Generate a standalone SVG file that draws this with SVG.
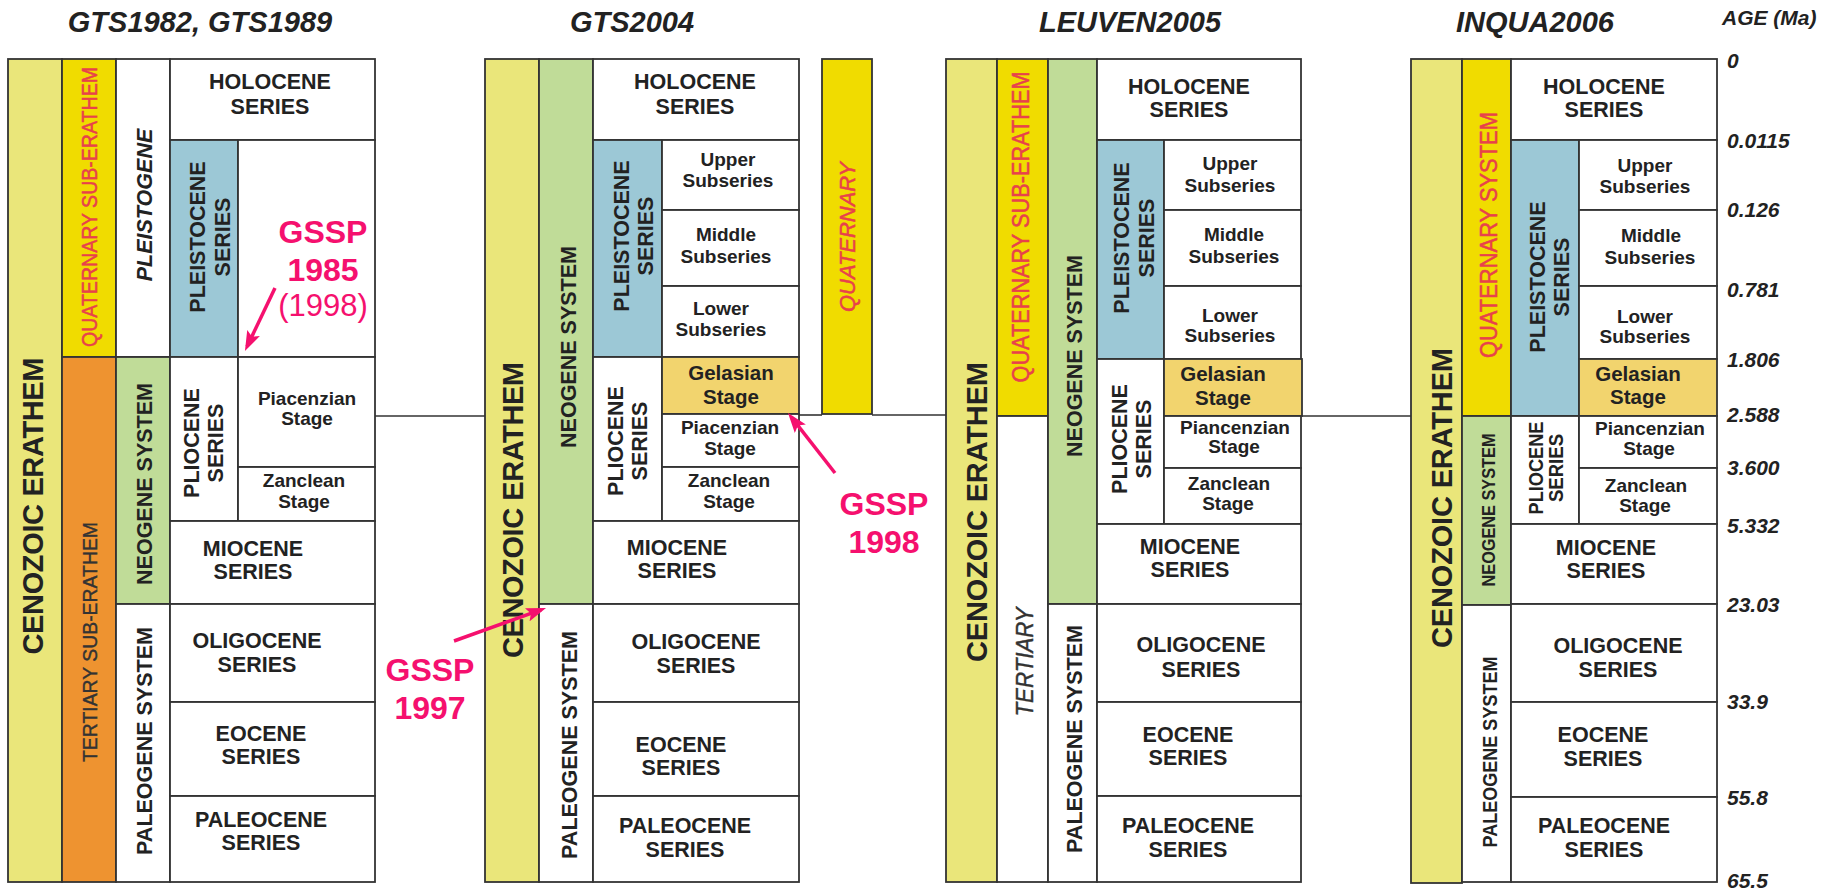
<svg xmlns="http://www.w3.org/2000/svg" width="1827" height="892" viewBox="0 0 1827 892">
  <style>
    text { font-family: "Liberation Sans", Arial, sans-serif; fill: #222; }
    .bx { stroke: #333; stroke-width: 1.8; fill: #fff; }
    .cz { fill: #EAE67A; }
    .qy { fill: #F0DC00; }
    .or { fill: #EE9330; }
    .gr { fill: #C0DC98; }
    .bl { fill: #9CC8D6; }
    .ge { fill: #F2D46E; }
    .ttl { font-size: 29px; font-weight: bold; font-style: italic; text-anchor: middle; }
    .age { font-size: 21px; font-weight: bold; font-style: italic; }
    .h { font-size: 21.5px; font-weight: bold; text-anchor: middle; }
    .s { font-size: 19px; font-weight: bold; text-anchor: middle; }
    .g { font-size: 20.5px; font-weight: bold; text-anchor: middle; }
    .big { font-size: 29px; font-weight: bold; text-anchor: middle; }
    .red { fill: #E8414B; stroke: #E8414B; stroke-width: 0.5; font-size: 22px; text-anchor: middle; }
    .it { font-style: italic; }
    .reg { font-size: 21px; text-anchor: middle; fill: #333; stroke: #333; stroke-width: 0.4; }
    .gssp { fill: #F5106E; font-size: 32px; font-weight: bold; text-anchor: middle; }
    .gsspr { fill: #F5106E; font-size: 31px; text-anchor: middle; }
    .link { stroke: #333; stroke-width: 1.6; fill: none; }
    .arr { stroke: #F5106E; stroke-width: 3.5; fill: none; marker-end: url(#head); }
  </style>
  <defs>
    <marker id="head" markerUnits="userSpaceOnUse" viewBox="0 0 20 14" markerWidth="20" markerHeight="14" refX="15" refY="7" orient="auto">
      <path d="M0,0 L20,7 L0,14 L4,7 z" fill="#F5106E"/>
    </marker>
  </defs>

  <!-- column titles -->
  <g id="titles">
    <text class="ttl" x="200" y="32">GTS1982, GTS1989</text>
    <text class="ttl" x="632" y="32">GTS2004</text>
    <text class="ttl" x="1130" y="32">LEUVEN2005</text>
    <text class="ttl" x="1535" y="32">INQUA2006</text>
    <text class="age" x="1722" y="25">AGE (Ma)</text>
  </g>

  <!-- GTS1982 / GTS1989 -->
  <g id="gts1982">
    <rect class="bx cz" x="8" y="59" width="54" height="823"/>
    <rect class="bx qy" x="62" y="59" width="54" height="298"/>
    <rect class="bx or" x="62" y="357" width="54" height="525"/>
    <rect class="bx" x="116" y="59" width="54" height="298"/>
    <rect class="bx gr" x="116" y="357" width="54" height="247"/>
    <rect class="bx" x="116" y="604" width="54" height="278"/>
    <rect class="bx" x="170" y="59" width="205" height="81"/>
    <rect class="bx bl" x="170" y="140" width="68" height="217"/>
    <rect class="bx" x="238" y="140" width="137" height="217"/>
    <rect class="bx" x="170" y="357" width="68" height="164"/>
    <rect class="bx" x="238" y="357" width="137" height="110"/>
    <rect class="bx" x="238" y="467" width="137" height="54"/>
    <rect class="bx" x="170" y="521" width="205" height="83"/>
    <rect class="bx" x="170" y="604" width="205" height="98"/>
    <rect class="bx" x="170" y="702" width="205" height="94"/>
    <rect class="bx" x="170" y="796" width="205" height="86"/>

    <text class="big" transform="translate(43,506) rotate(-90)" textLength="297">CENOZOIC ERATHEM</text>
    <text class="red" transform="translate(97,207) rotate(-90)" textLength="280" lengthAdjust="spacingAndGlyphs">QUATERNARY SUB-ERATHEM</text>
    <text class="reg" transform="translate(97,642) rotate(-90)" textLength="240" lengthAdjust="spacingAndGlyphs">TERTIARY SUB-ERATHEM</text>
    <text class="h it" transform="translate(152,205) rotate(-90)">PLEISTOGENE</text>
    <text class="h" transform="translate(152,484) rotate(-90)">NEOGENE SYSTEM</text>
    <text class="h" transform="translate(152,741) rotate(-90)">PALEOGENE SYSTEM</text>
    <text class="h" transform="translate(205,237) rotate(-90)"><tspan x="0" y="0">PLEISTOCENE</tspan><tspan x="0" y="25">SERIES</tspan></text>
    <text class="h" transform="translate(199,443) rotate(-90)"><tspan x="0" y="0">PLIOCENE</tspan><tspan x="0" y="24">SERIES</tspan></text>

    <text class="h"><tspan x="270" y="89">HOLOCENE</tspan><tspan x="270" y="114">SERIES</tspan></text>
    <text class="s"><tspan x="307" y="405">Piacenzian</tspan><tspan x="307" y="425">Stage</tspan></text>
    <text class="s"><tspan x="304" y="487">Zanclean</tspan><tspan x="304" y="508">Stage</tspan></text>
    <text class="h"><tspan x="253" y="556">MIOCENE</tspan><tspan x="253" y="579">SERIES</tspan></text>
    <text class="h"><tspan x="257" y="648">OLIGOCENE</tspan><tspan x="257" y="672">SERIES</tspan></text>
    <text class="h"><tspan x="261" y="741">EOCENE</tspan><tspan x="261" y="764">SERIES</tspan></text>
    <text class="h"><tspan x="261" y="827">PALEOCENE</tspan><tspan x="261" y="850">SERIES</tspan></text>

    <text class="gssp"><tspan x="323" y="243">GSSP</tspan><tspan x="323" y="281">1985</tspan></text>
    <text class="gsspr" x="323" y="316">(1998)</text>
  </g>

  <!-- GTS2004 -->
  <g id="gts2004">
    <rect class="bx cz" x="485" y="59" width="54" height="823"/>
    <rect class="bx gr" x="539" y="59" width="54" height="545"/>
    <rect class="bx" x="539" y="604" width="54" height="278"/>
    <rect class="bx" x="593" y="59" width="206" height="81"/>
    <rect class="bx bl" x="593" y="140" width="69" height="217"/>
    <rect class="bx" x="662" y="140" width="137" height="70"/>
    <rect class="bx" x="662" y="210" width="137" height="76"/>
    <rect class="bx" x="662" y="286" width="137" height="71"/>
    <rect class="bx" x="593" y="357" width="69" height="164"/>
    <rect class="bx ge" x="662" y="357" width="137" height="57"/>
    <rect class="bx" x="662" y="414" width="137" height="53"/>
    <rect class="bx" x="662" y="467" width="137" height="54"/>
    <rect class="bx" x="593" y="521" width="206" height="83"/>
    <rect class="bx" x="593" y="604" width="206" height="98"/>
    <rect class="bx" x="593" y="702" width="206" height="94"/>
    <rect class="bx" x="593" y="796" width="206" height="86"/>

    <text class="big" transform="translate(523,510) rotate(-90)" textLength="296">CENOZOIC ERATHEM</text>
    <text class="h" transform="translate(576,347) rotate(-90)">NEOGENE SYSTEM</text>
    <text class="h" transform="translate(577,745) rotate(-90)">PALEOGENE SYSTEM</text>
    <text class="h" transform="translate(629,236) rotate(-90)"><tspan x="0" y="0">PLEISTOCENE</tspan><tspan x="0" y="24">SERIES</tspan></text>
    <text class="h" transform="translate(623,441) rotate(-90)"><tspan x="0" y="0">PLIOCENE</tspan><tspan x="0" y="24">SERIES</tspan></text>

    <text class="h"><tspan x="695" y="89">HOLOCENE</tspan><tspan x="695" y="114">SERIES</tspan></text>
    <text class="s"><tspan x="728" y="166">Upper</tspan><tspan x="728" y="187">Subseries</tspan></text>
    <text class="s"><tspan x="726" y="241">Middle</tspan><tspan x="726" y="263">Subseries</tspan></text>
    <text class="s"><tspan x="721" y="315">Lower</tspan><tspan x="721" y="336">Subseries</tspan></text>
    <text class="g"><tspan x="731" y="380">Gelasian</tspan><tspan x="731" y="404">Stage</tspan></text>
    <text class="s"><tspan x="730" y="434">Piacenzian</tspan><tspan x="730" y="455">Stage</tspan></text>
    <text class="s"><tspan x="729" y="487">Zanclean</tspan><tspan x="729" y="508">Stage</tspan></text>
    <text class="h"><tspan x="677" y="555">MIOCENE</tspan><tspan x="677" y="578">SERIES</tspan></text>
    <text class="h"><tspan x="696" y="649">OLIGOCENE</tspan><tspan x="696" y="673">SERIES</tspan></text>
    <text class="h"><tspan x="681" y="752">EOCENE</tspan><tspan x="681" y="775">SERIES</tspan></text>
    <text class="h"><tspan x="685" y="833">PALEOCENE</tspan><tspan x="685" y="857">SERIES</tspan></text>

    <text class="gssp"><tspan x="884" y="515">GSSP</tspan><tspan x="884" y="553">1998</tspan></text>
    <text class="gssp"><tspan x="430" y="681">GSSP</tspan><tspan x="430" y="719">1997</tspan></text>
  </g>

  <!-- separate Quaternary bar beside GTS2004 -->
  <g id="gts2004-quaternary">
    <rect class="bx qy" x="822" y="59" width="50" height="355"/>
    <text class="red it" transform="translate(855,237) rotate(-90)" textLength="150" lengthAdjust="spacingAndGlyphs">QUATERNARY</text>
  </g>

  <!-- LEUVEN2005 -->
  <g id="leuven2005">
    <rect class="bx cz" x="946" y="59" width="51" height="823"/>
    <rect class="bx qy" x="997" y="59" width="51" height="357"/>
    <rect class="bx" x="997" y="416" width="51" height="466"/>
    <rect class="bx gr" x="1048" y="59" width="49" height="545"/>
    <rect class="bx" x="1048" y="604" width="49" height="278"/>
    <rect class="bx" x="1097" y="59" width="204" height="81"/>
    <rect class="bx bl" x="1097" y="140" width="67" height="219"/>
    <rect class="bx" x="1164" y="140" width="137" height="70"/>
    <rect class="bx" x="1164" y="210" width="137" height="76"/>
    <rect class="bx" x="1164" y="286" width="137" height="73"/>
    <rect class="bx" x="1097" y="359" width="67" height="165"/>
    <rect class="bx ge" x="1164" y="359" width="138" height="57"/>
    <rect class="bx" x="1164" y="416" width="137" height="52"/>
    <rect class="bx" x="1164" y="468" width="137" height="56"/>
    <rect class="bx" x="1097" y="524" width="204" height="80"/>
    <rect class="bx" x="1097" y="604" width="204" height="98"/>
    <rect class="bx" x="1097" y="702" width="204" height="94"/>
    <rect class="bx" x="1097" y="796" width="204" height="86"/>

    <text class="big" transform="translate(987,512) rotate(-90)" textLength="300">CENOZOIC ERATHEM</text>
    <text class="red" transform="translate(1029,227) rotate(-90)" textLength="311" lengthAdjust="spacingAndGlyphs" style="font-size:23px">QUATERNARY SUB-ERATHEM</text>
    <text class="reg it" transform="translate(1033,662) rotate(-90)" textLength="109" lengthAdjust="spacingAndGlyphs" style="font-size:23px">TERTIARY</text>
    <text class="h" transform="translate(1082,356) rotate(-90)">NEOGENE SYSTEM</text>
    <text class="h" transform="translate(1082,739) rotate(-90)">PALEOGENE SYSTEM</text>
    <text class="h" transform="translate(1129,238) rotate(-90)"><tspan x="0" y="0">PLEISTOCENE</tspan><tspan x="0" y="25">SERIES</tspan></text>
    <text class="h" transform="translate(1127,439) rotate(-90)"><tspan x="0" y="0">PLIOCENE</tspan><tspan x="0" y="24">SERIES</tspan></text>

    <text class="h"><tspan x="1189" y="94">HOLOCENE</tspan><tspan x="1189" y="117">SERIES</tspan></text>
    <text class="s"><tspan x="1230" y="170">Upper</tspan><tspan x="1230" y="192">Subseries</tspan></text>
    <text class="s"><tspan x="1234" y="241">Middle</tspan><tspan x="1234" y="263">Subseries</tspan></text>
    <text class="s"><tspan x="1230" y="322">Lower</tspan><tspan x="1230" y="342">Subseries</tspan></text>
    <text class="g"><tspan x="1223" y="381">Gelasian</tspan><tspan x="1223" y="405">Stage</tspan></text>
    <text class="s"><tspan x="1235" y="434">Piancenzian</tspan><tspan x="1234" y="453">Stage</tspan></text>
    <text class="s"><tspan x="1229" y="490">Zanclean</tspan><tspan x="1228" y="510">Stage</tspan></text>
    <text class="h"><tspan x="1190" y="554">MIOCENE</tspan><tspan x="1190" y="577">SERIES</tspan></text>
    <text class="h"><tspan x="1201" y="652">OLIGOCENE</tspan><tspan x="1201" y="677">SERIES</tspan></text>
    <text class="h"><tspan x="1188" y="742">EOCENE</tspan><tspan x="1188" y="765">SERIES</tspan></text>
    <text class="h"><tspan x="1188" y="833">PALEOCENE</tspan><tspan x="1188" y="857">SERIES</tspan></text>
  </g>

  <!-- INQUA2006 -->
  <g id="inqua2006">
    <rect class="bx cz" x="1411" y="59" width="51" height="824"/>
    <rect class="bx qy" x="1462" y="59" width="49" height="357"/>
    <rect class="bx gr" x="1462" y="416" width="49" height="189"/>
    <rect class="bx" x="1462" y="605" width="49" height="277"/>
    <rect class="bx" x="1511" y="59" width="206" height="81"/>
    <rect class="bx bl" x="1511" y="140" width="68" height="276"/>
    <rect class="bx" x="1579" y="140" width="138" height="70"/>
    <rect class="bx" x="1579" y="210" width="138" height="76"/>
    <rect class="bx" x="1579" y="286" width="138" height="73"/>
    <rect class="bx ge" x="1579" y="359" width="138" height="57"/>
    <rect class="bx" x="1511" y="416" width="68" height="108"/>
    <rect class="bx" x="1579" y="416" width="138" height="52"/>
    <rect class="bx" x="1579" y="468" width="138" height="56"/>
    <rect class="bx" x="1511" y="524" width="206" height="80"/>
    <rect class="bx" x="1511" y="604" width="206" height="98"/>
    <rect class="bx" x="1511" y="702" width="206" height="95"/>
    <rect class="bx" x="1511" y="797" width="206" height="85"/>

    <text class="big" transform="translate(1452,498) rotate(-90)" textLength="300">CENOZOIC ERATHEM</text>
    <text class="red" transform="translate(1497,235) rotate(-90)" textLength="246" lengthAdjust="spacingAndGlyphs" style="font-size:23px">QUATERNARY SYSTEM</text>
    <text class="h" transform="translate(1545,277) rotate(-90)"><tspan x="0" y="0">PLEISTOCENE</tspan><tspan x="0" y="24">SERIES</tspan></text>
    <text class="h" transform="translate(1495,510) rotate(-90)" textLength="153" lengthAdjust="spacingAndGlyphs" style="font-size:18.5px">NEOGENE SYSTEM</text>
    <text class="h" transform="translate(1497,752) rotate(-90)" textLength="191" lengthAdjust="spacingAndGlyphs" style="font-size:20px">PALEOGENE SYSTEM</text>
    <text class="h" transform="translate(1543,468) rotate(-90)" textLength="93" lengthAdjust="spacingAndGlyphs" style="font-size:20px">PLIOCENE</text>
    <text class="h" transform="translate(1563,468) rotate(-90)" textLength="68" lengthAdjust="spacingAndGlyphs" style="font-size:20px">SERIES</text>

    <text class="h"><tspan x="1604" y="94">HOLOCENE</tspan><tspan x="1604" y="117">SERIES</tspan></text>
    <text class="s"><tspan x="1645" y="172">Upper</tspan><tspan x="1645" y="193">Subseries</tspan></text>
    <text class="s"><tspan x="1651" y="242">Middle</tspan><tspan x="1650" y="264">Subseries</tspan></text>
    <text class="s"><tspan x="1645" y="323">Lower</tspan><tspan x="1645" y="343">Subseries</tspan></text>
    <text class="g"><tspan x="1638" y="381">Gelasian</tspan><tspan x="1638" y="404">Stage</tspan></text>
    <text class="s"><tspan x="1650" y="435">Piancenzian</tspan><tspan x="1649" y="455">Stage</tspan></text>
    <text class="s"><tspan x="1646" y="492">Zanclean</tspan><tspan x="1645" y="512">Stage</tspan></text>
    <text class="h"><tspan x="1606" y="555">MIOCENE</tspan><tspan x="1606" y="578">SERIES</tspan></text>
    <text class="h"><tspan x="1618" y="653">OLIGOCENE</tspan><tspan x="1618" y="677">SERIES</tspan></text>
    <text class="h"><tspan x="1603" y="742">EOCENE</tspan><tspan x="1603" y="766">SERIES</tspan></text>
    <text class="h"><tspan x="1604" y="833">PALEOCENE</tspan><tspan x="1604" y="857">SERIES</tspan></text>
  </g>

  <!-- age scale -->
  <g id="ages">
    <text class="age" x="1727" y="68">0</text>
    <text class="age" x="1727" y="148">0.0115</text>
    <text class="age" x="1727" y="217">0.126</text>
    <text class="age" x="1727" y="297">0.781</text>
    <text class="age" x="1727" y="367">1.806</text>
    <text class="age" x="1727" y="422">2.588</text>
    <text class="age" x="1727" y="475">3.600</text>
    <text class="age" x="1727" y="533">5.332</text>
    <text class="age" x="1727" y="612">23.03</text>
    <text class="age" x="1727" y="709">33.9</text>
    <text class="age" x="1727" y="805">55.8</text>
    <text class="age" x="1727" y="888">65.5</text>
  </g>

  <!-- boundary links and GSSP arrows, drawn over the columns -->
  <g id="connectors">
    <line class="link" x1="375" y1="416" x2="485" y2="416"/>
    <line class="link" x1="799" y1="415" x2="822" y2="415"/>
    <line class="link" x1="872" y1="415" x2="946" y2="415"/>
    <line class="link" x1="1302" y1="416" x2="1411" y2="416"/>
    <line class="arr" x1="275" y1="288" x2="247.1" y2="346.5"/>
    <line class="arr" x1="835" y1="473" x2="791.1" y2="416.9"/>
    <line class="arr" x1="454" y1="641" x2="541.3" y2="609.7"/>
  </g>
</svg>
